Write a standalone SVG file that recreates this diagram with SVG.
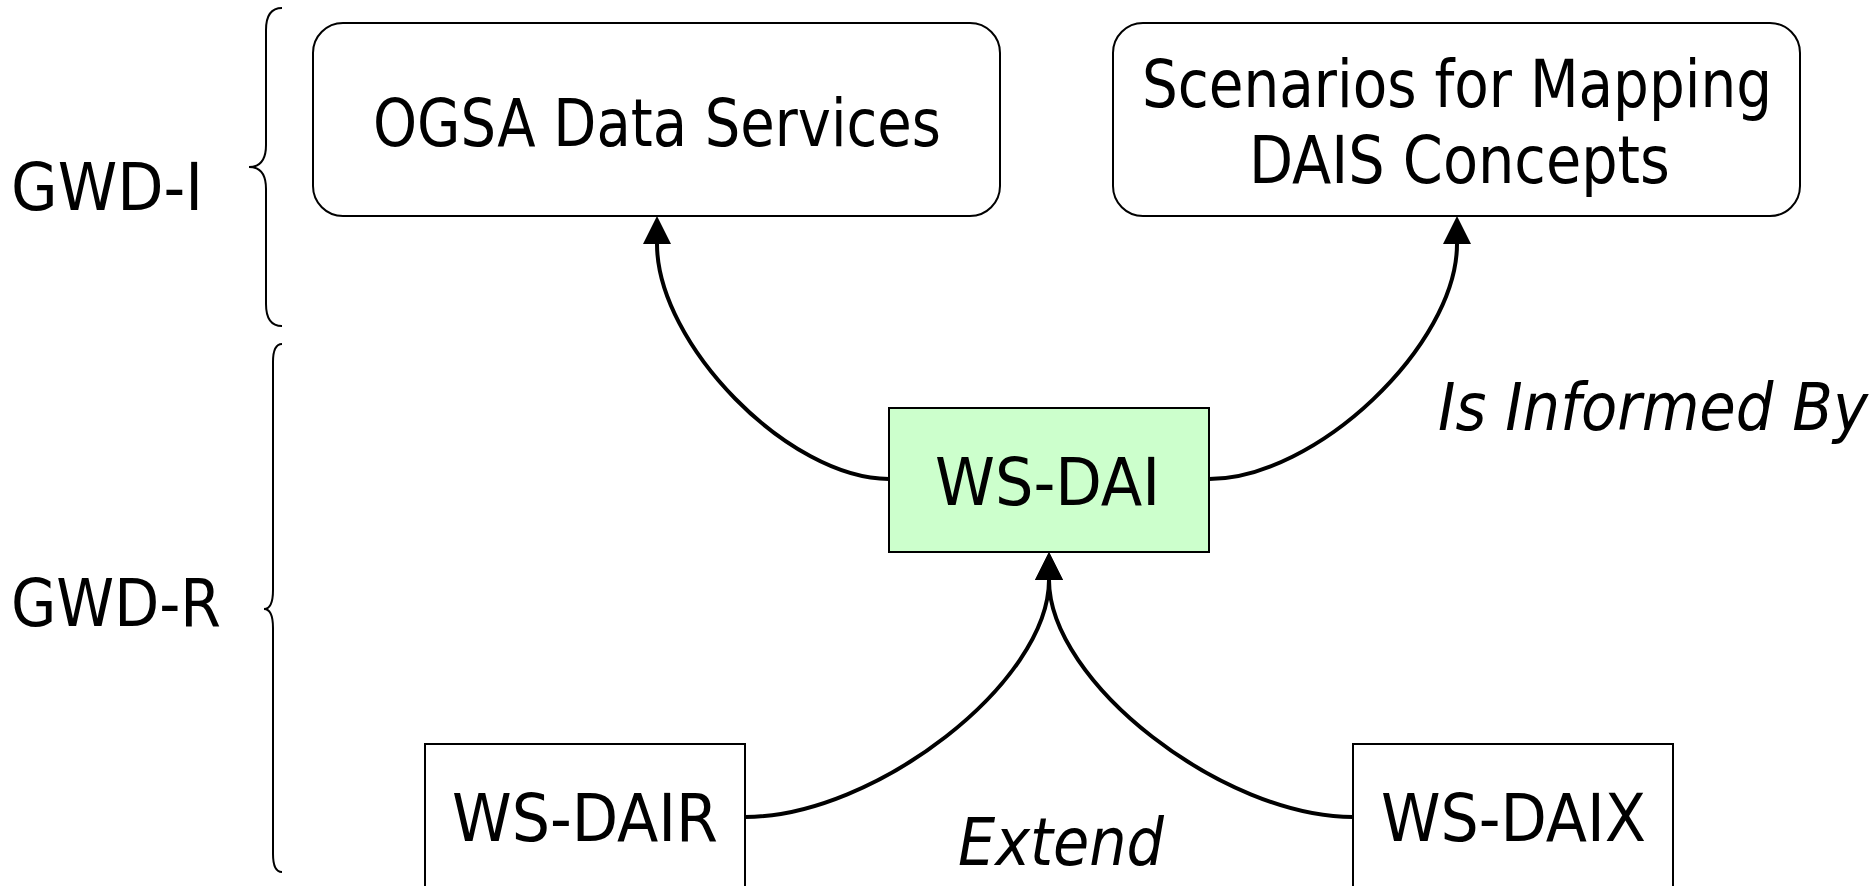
<svg xmlns="http://www.w3.org/2000/svg" width="1872" height="886" viewBox="0 0 1872 886">
  <style>
    .lbl { font-family: "DejaVu Sans Condensed", "DejaVu Sans", Verdana, sans-serif; font-size: 66px; fill: #000; }
    .it { font-style: italic; }
    .box { fill: #fff; stroke: #000; stroke-width: 2; }
    .core { fill: #ccffcc; stroke: #000; stroke-width: 2; }
    .brace { fill: none; stroke: #000; stroke-width: 2; }
    .edge { fill: none; stroke: #000; stroke-width: 4; marker-end: url(#head); }
  </style>
  <defs>
    <marker id="head" markerUnits="userSpaceOnUse" markerWidth="32" markerHeight="32" refX="0" refY="14" orient="auto" overflow="visible">
      <path d="M0,0 L28,14 L0,28 Z" fill="#000"/>
    </marker>
  </defs>
  <rect width="1872" height="886" fill="#fff"/>

  <!-- document-class braces and labels -->
  <g id="gwd-i">
    <path class="brace" d="M282,8 C272,8 266,14 266,30 L266,145 C266,160 260,167 249,167 C260,167 266,174 266,189 L266,304 C266,320 272,326 282,326"/>
    <text class="lbl" x="11" y="210" textLength="192" lengthAdjust="spacingAndGlyphs">GWD-I</text>
  </g>
  <g id="gwd-r">
    <path class="brace" d="M282,344 C276,344 273,350 273,362 L273,590 C273,603 270,609 264,609 C270,609 273,615 273,628 L273,854 C273,866 276,872 282,872"/>
    <text class="lbl" x="11" y="626" textLength="210" lengthAdjust="spacingAndGlyphs">GWD-R</text>
  </g>

  <!-- connectors -->
  <g id="connectors">
    <path class="edge" d="M889,479 C789,479 657,344 657,244"/>
    <path class="edge" d="M1209,479 C1316,479 1457,345 1457,244"/>
    <path class="edge" d="M745,817 C875,817 1049,682 1049,580"/>
    <path class="edge" d="M1353,817 C1223,817 1049,682 1049,580"/>
    <text class="lbl it" x="1438" y="430" textLength="430" lengthAdjust="spacingAndGlyphs">Is Informed By</text>
    <text class="lbl it" x="958" y="865" textLength="206" lengthAdjust="spacingAndGlyphs">Extend</text>
  </g>

  <!-- nodes -->
  <g id="ogsa-data-services">
    <rect class="box" x="313" y="23" width="687" height="193" rx="30" ry="30"/>
    <text class="lbl" x="373" y="146" textLength="568" lengthAdjust="spacingAndGlyphs">OGSA Data Services</text>
  </g>
  <g id="scenarios">
    <rect class="box" x="1113" y="23" width="687" height="193" rx="30" ry="30"/>
    <text class="lbl" x="1142" y="107" textLength="630" lengthAdjust="spacingAndGlyphs">Scenarios for Mapping</text>
    <text class="lbl" x="1249" y="183" textLength="421" lengthAdjust="spacingAndGlyphs">DAIS Concepts</text>
  </g>
  <g id="ws-dai">
    <rect class="core" x="889" y="408" width="320" height="144"/>
    <text class="lbl" x="935" y="505" textLength="225" lengthAdjust="spacingAndGlyphs">WS-DAI</text>
  </g>
  <g id="ws-dair">
    <rect class="box" x="425" y="744" width="320" height="150"/>
    <text class="lbl" x="452" y="841" textLength="266" lengthAdjust="spacingAndGlyphs">WS-DAIR</text>
  </g>
  <g id="ws-daix">
    <rect class="box" x="1353" y="744" width="320" height="150"/>
    <text class="lbl" x="1381" y="841" textLength="265" lengthAdjust="spacingAndGlyphs">WS-DAIX</text>
  </g>
</svg>
